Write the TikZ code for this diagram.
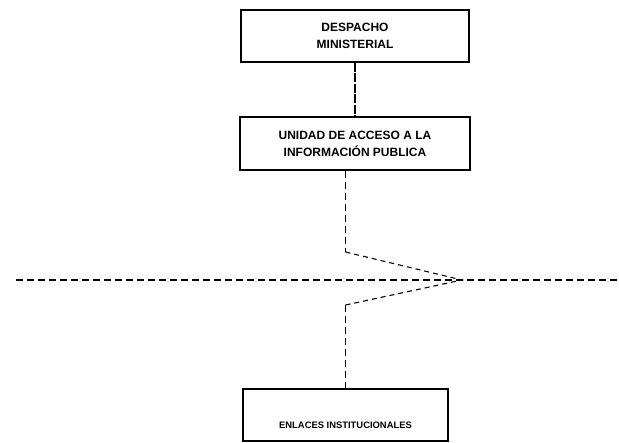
\documentclass[tikz,border=0pt]{standalone}
\usepackage{fontspec}
\setmainfont{Liberation Sans}
\begin{document}
\begin{tikzpicture}[x=1pt,y=-1pt,
  orgbox/.style={draw, line width=1.2pt, inner sep=0pt, align=center,
    font=\bfseries\fontsize{12}{17}\selectfont},
  link/.style={line width=1.2pt, dash pattern=on 7pt off 4pt},
  solidlink/.style={line width=1.1pt, dash pattern=on 9pt off 1.5pt},
  diag/.style={line width=1.1pt, dash pattern=on 5pt off 4pt}]
\useasboundingbox (0,0) rectangle (619,443);
\node[orgbox, minimum width=228pt, minimum height=52pt] (box1) at (355,36)
  {DESPACHO\\MINISTERIAL};
\node[orgbox, minimum width=230pt, minimum height=53pt] (box2) at (355,143.5)
  {UNIDAD DE ACCESO A LA\\INFORMACIÓN PUBLICA};
\node[orgbox, minimum width=205pt, minimum height=52pt,
  text height=27pt, text depth=0pt,
  font=\bfseries\fontsize{9.4}{11}\selectfont] (box3) at (345.5,415)
  {ENLACES INSTITUCIONALES};
\coordinate (b2) at (box2.south -| box3.north);
\coordinate (j1) at (345.5,252);
\coordinate (apex) at (462,280);
\coordinate (j2) at (345.5,305);
\coordinate (hl) at (16,280);
\coordinate (hr) at (619,280);
\draw[solidlink] (box1.south) -- (box2.north);
\draw[link] (b2) -- (j1);
\draw[diag] (j1) -- (apex) -- (j2);
\draw[link] (j2) -- (box3.north);
\draw[link] (hl) -- (hr);
\end{tikzpicture}
\end{document}
